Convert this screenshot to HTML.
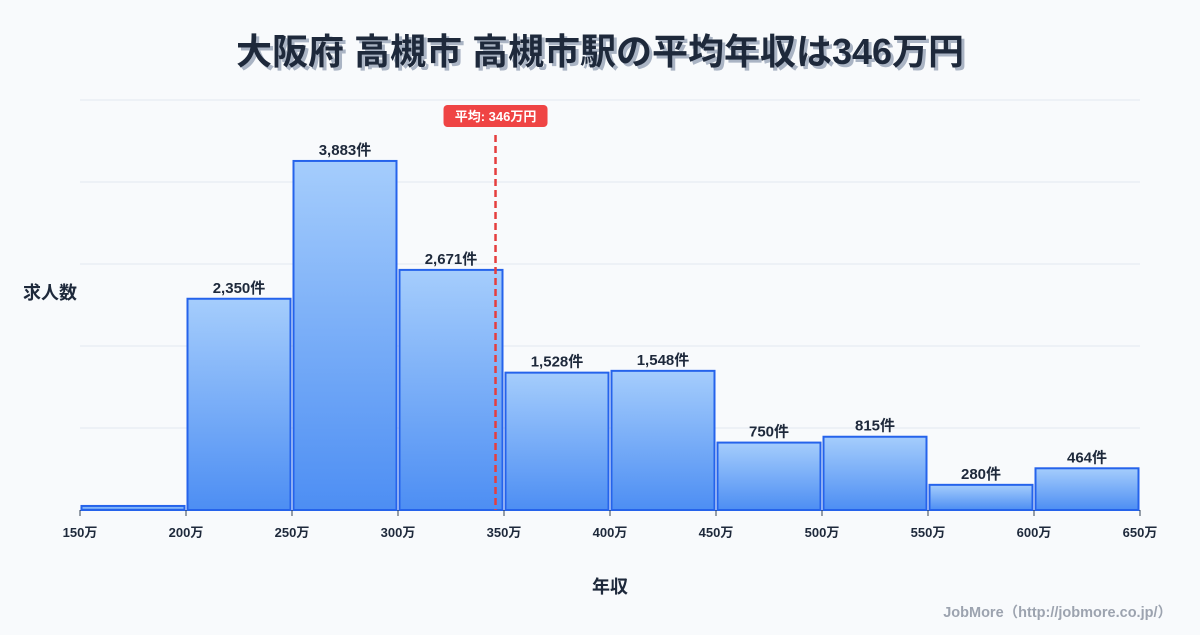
<!DOCTYPE html>
<html><head><meta charset="utf-8"><style>
body{margin:0;background:#f8fafc;font-family:"Liberation Sans","Noto Sans CJK JP",sans-serif;}
svg text{font-family:"Liberation Sans","Noto Sans CJK JP",sans-serif;}
</style></head><body>
<svg id="c" width="1200" height="630" xmlns="http://www.w3.org/2000/svg">
<defs><linearGradient id="g" x1="0" y1="0" x2="0" y2="1"><stop offset="0" stop-color="#a5cdfc"/><stop offset="1" stop-color="#4d8ef3"/></linearGradient></defs>
<rect width="1200" height="630" fill="#f8fafc"/>
<text x="603" y="67" text-anchor="middle" font-size="36" font-weight="bold" fill="#aab4c4">大阪府 高槻市 高槻市駅の平均年収は346万円</text>
<text x="600" y="64" text-anchor="middle" font-size="36" font-weight="bold" fill="#1e293b">大阪府 高槻市 高槻市駅の平均年収は346万円</text>
<text x="50" y="299" text-anchor="middle" font-size="18" font-weight="bold" fill="#1e293b">求人数</text>
<text x="610" y="593" text-anchor="middle" font-size="18" font-weight="bold" fill="#1e293b">年収</text>
<text x="1172" y="617" text-anchor="end" font-size="14.5" font-weight="bold" fill="#9ca3af">JobMore（http://jobmore.co.jp/）</text>
<g id="grid"></g><g id="bars"></g><g id="xt"></g><g id="mean"></g>
</svg>
<script>
const binStarts=[150,200,250,300,350,400,450,500,550,600];
const counts=[45,2350,3883,2671,1528,1548,750,815,280,464];
const xTicks=[150,200,250,300,350,400,450,500,550,600,650];
const meanValue=346;
const NS="http://www.w3.org/2000/svg";
const X0=80,X1=1140,XMIN=150,XMAX=650,Y0=510,YTOP=100,YMAX=4561;
const x=v=>X0+(v-XMIN)/(XMAX-XMIN)*(X1-X0);
const y=v=>Y0-v/YMAX*(Y0-YTOP);
function mk(t,a,p){const e=document.createElementNS(NS,t);for(const k in a)e.setAttribute(k,a[k]);p.appendChild(e);return e;}
const grid=document.getElementById('grid');
for(let i=0;i<=5;i++){const gy=Y0-i*(Y0-YTOP)/5;
const l=mk('line',{x1:X0,x2:X1,y1:gy,y2:gy,stroke:'#e2e8f0','stroke-width':1},grid);

}
const bars=document.getElementById('bars');
binStarts.forEach((b,i)=>{const xa=x(b)+1.5,xb=x(b+50)-1.5,yt=y(counts[i]);
const r=mk('rect',{x:xa,y:yt,width:xb-xa,height:Y0-yt,fill:'url(#g)',stroke:'#2563eb','stroke-width':2},bars);


if(counts[i]>100){const t=mk('text',{x:(xa+xb)/2,y:yt-6,'text-anchor':'middle','font-size':15,'font-weight':'bold',fill:'#1e293b'},bars);
t.textContent=counts[i].toLocaleString('en-US')+'件';

}});
const xt=document.getElementById('xt');
xTicks.forEach(v=>{mk('line',{x1:x(v),x2:x(v),y1:Y0,y2:Y0+6,stroke:'#334155'},xt);
const t=mk('text',{x:x(v),y:Y0+27,'text-anchor':'middle','font-size':13,'font-weight':'bold',fill:'#1e293b'},xt);
t.textContent=v+'万';

});
const mg=document.getElementById('mean');const mx=x(meanValue);
const ml=mk('line',{x1:mx,x2:mx,y1:135,y2:Y0,stroke:'#e53e3e','stroke-width':2.5,'stroke-dasharray':'7,4'},mg);


const mb=mk('rect',{x:mx-52,y:105,width:104,height:22,rx:4,fill:'#ef4444'},mg);


const mt=mk('text',{x:mx,y:121,'text-anchor':'middle','font-size':13,'font-weight':'bold',fill:'#fff'},mg);
mt.textContent='平均: '+meanValue+'万円';


</script>
</body></html>
